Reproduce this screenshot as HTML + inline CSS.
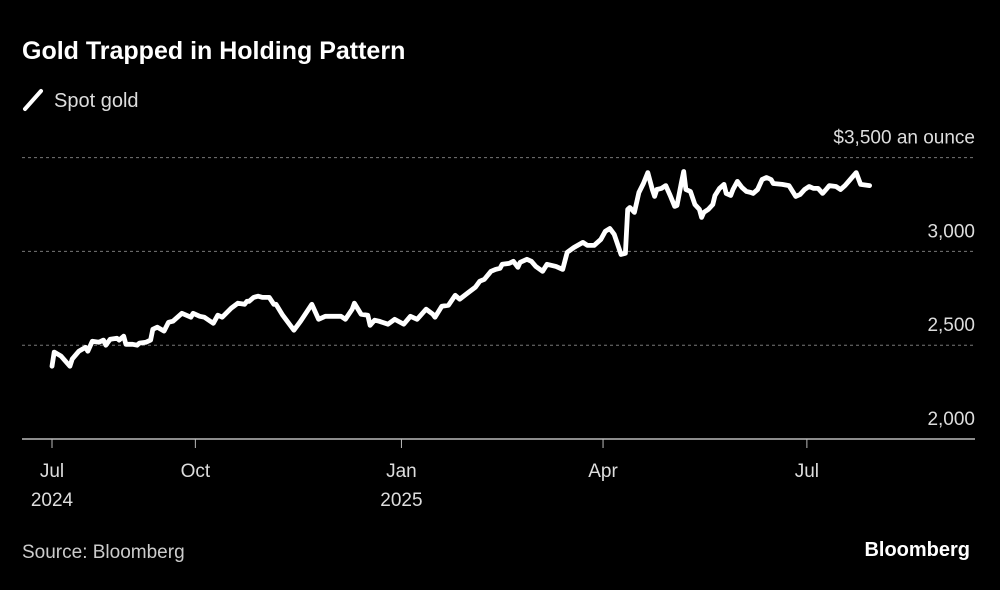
<!DOCTYPE html>
<html><head><meta charset="utf-8"><style>
html,body{margin:0;padding:0;background:#000;}
body{width:1000px;height:585px;overflow:hidden;font-family:"Liberation Sans",sans-serif;}
svg text{font-family:"Liberation Sans",sans-serif;}
</style></head><body>
<svg id="chart" width="1000" height="585">
<text x="22" y="59" fill="#fff" font-size="25" font-weight="bold">Gold Trapped in Holding Pattern</text>
<line x1="25" y1="109" x2="41" y2="91" stroke="#fff" stroke-width="4" stroke-linecap="round"/>
<text x="54" y="107" fill="#ddd" font-size="20">Spot gold</text>
<g id="grid"></g>
<g id="xaxis"></g>
<path id="line" fill="none" stroke="#fff" stroke-width="4.8" stroke-linejoin="round" stroke-linecap="round"/>
<text x="22" y="558" fill="#ccc" font-size="19">Source: Bloomberg</text>
<text x="970" y="556" fill="#fff" font-size="20" font-weight="bold" text-anchor="end">Bloomberg</text>
</svg>
<script>
const days=[0,1,4,8,9,12,15,16,18,21,23,24,26,29,30,32,33,36,38,39,42,44,45,47,50,52,54,58,62,63,66,68,72,74,76,80,83,86,87,88,90,92,94,97,99,100,103,108,111,116,119,122,129,131,134,135,138,141,142,144,146,150,153,157,160,163,167,170,171,174,177,180,182,186,189,191,193,196,198,200,201,204,206,208,209,212,214,216,219,221,225,228,230,233,237,239,242,245,247,249,251,253,254,256,257,258,260,262,264,266,268,269,270,272,274,276,278,279,281,282,283,285,287,289,290,291,293,295,296,298,300,301,303,304,306,308,310,312,313,315,317,319,321,322,326,329,332,334,336,338,340,342,344,346,347,350,352,354,356,359,361,365];
const prices=[2388,2463,2442,2388,2426,2468,2489,2468,2521,2516,2527,2500,2532,2537,2527,2548,2505,2505,2500,2511,2516,2527,2585,2596,2575,2622,2628,2670,2649,2670,2654,2649,2617,2660,2649,2697,2724,2718,2734,2734,2755,2761,2755,2755,2718,2718,2660,2580,2628,2718,2638,2654,2654,2638,2692,2724,2665,2660,2606,2633,2628,2612,2638,2612,2654,2638,2692,2665,2649,2708,2713,2766,2745,2782,2809,2841,2851,2894,2904,2910,2931,2936,2947,2915,2942,2958,2947,2920,2894,2931,2920,2904,2995,3021,3048,3032,3032,3064,3107,3122,3091,3021,2984,2990,3224,3234,3208,3314,3362,3420,3330,3293,3330,3336,3351,3298,3240,3245,3367,3426,3330,3320,3250,3224,3181,3208,3224,3250,3298,3336,3357,3309,3298,3330,3373,3341,3320,3314,3309,3330,3383,3394,3383,3362,3357,3351,3293,3304,3330,3346,3336,3336,3309,3336,3351,3346,3330,3351,3378,3420,3357,3351];
const yTicks=[2000,2500,3000,3500];
const yTickLabels=["2,000","2,500","3,000","$3,500 an ounce"];
const xTickDays=[0,64,156,246,337];
const xTickLabels=["Jul","Oct","Jan","Apr","Jul"];
const xTickYears=["2024","","2025","",""];

const ns="http://www.w3.org/2000/svg";
const X=d=>52+d*2.24;
const Y=v=>439-(v-2000)*0.1876;
const grid=document.getElementById('grid');
yTicks.forEach((t,i)=>{
  if(i>0){
    const l=document.createElementNS(ns,'line');
    
    
    l.setAttribute('x1',22);l.setAttribute('x2',975);
    l.setAttribute('y1',Y(t));l.setAttribute('y2',Y(t));
    l.setAttribute('stroke','#777');l.setAttribute('stroke-dasharray','3,3');l.setAttribute('stroke-width','1');
    grid.appendChild(l);
  }
  const tx=document.createElementNS(ns,'text');
  
  
  tx.setAttribute('x',975);tx.setAttribute('y',Y(t)-14);
  tx.setAttribute('text-anchor','end');tx.setAttribute('fill','#ddd');tx.setAttribute('font-size','19');
  tx.textContent=yTickLabels[i];
  grid.appendChild(tx);
});
const xa=document.getElementById('xaxis');
const base=document.createElementNS(ns,'line');


base.setAttribute('x1',22);base.setAttribute('x2',975);base.setAttribute('y1',439);base.setAttribute('y2',439);
base.setAttribute('stroke','#bbb');base.setAttribute('stroke-width','1.5');
xa.appendChild(base);
xTickDays.forEach((d,i)=>{
  const x=X(d);
  const tk=document.createElementNS(ns,'line');
  
  
  tk.setAttribute('x1',x);tk.setAttribute('x2',x);tk.setAttribute('y1',439);tk.setAttribute('y2',448);
  tk.setAttribute('stroke','#bbb');tk.setAttribute('stroke-width','1');
  xa.appendChild(tk);
  const t=document.createElementNS(ns,'text');
  
  
  t.setAttribute('x',x);t.setAttribute('y',477);t.setAttribute('text-anchor','middle');
  t.setAttribute('fill','#ddd');t.setAttribute('font-size','19');
  t.textContent=xTickLabels[i];
  xa.appendChild(t);
  if(xTickYears[i]){
    const y=document.createElementNS(ns,'text');
    
    
    y.setAttribute('x',x);y.setAttribute('y',506);y.setAttribute('text-anchor','middle');
    y.setAttribute('fill','#ddd');y.setAttribute('font-size','19');
    y.textContent=xTickYears[i];
    xa.appendChild(y);
  }
});
document.getElementById('line').setAttribute('d',days.map((d,i)=>(i?'L':'M')+X(d).toFixed(1)+','+Y(prices[i]).toFixed(1)).join(''));
</script>
</body></html>
